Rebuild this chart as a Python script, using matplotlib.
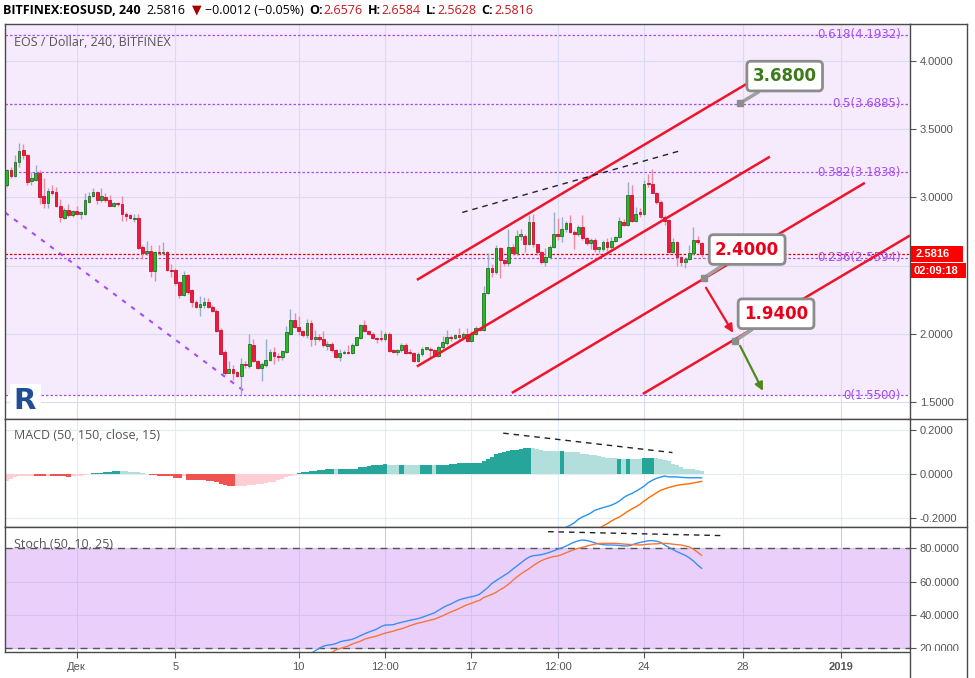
import matplotlib
matplotlib.use("Agg")
import matplotlib.pyplot as plt
import numpy as np
import pandas as pd
from matplotlib.patches import Rectangle
from matplotlib.lines import Line2D

plt.rcParams['font.family'] = ['Open Sans', 'DejaVu Sans']

# ---- data (4h candles, EOS/USD) ----
opens = [3.09, 3.20, 3.16, 3.26, 3.35, 3.31, 3.12, 3.13, 3.18, 3.01,
         2.96, 3.05, 3.04, 2.94, 2.85, 2.91, 2.87, 2.90, 2.88, 2.88,
         2.97, 3.01, 3.04, 2.98, 3.00, 2.98, 2.94, 2.96, 2.95, 2.875,
         2.87, 2.84, 2.85, 2.64, 2.59, 2.61, 2.46, 2.60, 2.59, 2.60,
         2.47, 2.47, 2.38, 2.285, 2.43, 2.32, 2.23, 2.20, 2.21, 2.23,
         2.20, 2.17, 2.03, 1.87, 1.715, 1.74, 1.72, 1.69, 1.78, 1.765,
         1.92, 1.80, 1.75, 1.77, 1.81, 1.87, 1.84, 1.83, 1.87, 2.00,
         2.10, 2.05, 2.02, 1.99, 2.08, 1.96, 1.975, 1.963, 1.91, 1.925,
         1.88, 1.83, 1.86, 1.87, 1.86, 1.92, 1.97, 2.066, 2.02, 2.00,
         1.97, 1.965, 1.96, 2.00, 1.88, 1.87, 1.88, 1.92, 1.87, 1.86,
         1.80, 1.85, 1.89, 1.89, 1.88, 1.84, 1.90, 1.93, 1.98, 1.97,
         1.99, 1.98, 2.00, 1.95, 2.00, 2.04, 2.03, 2.30, 2.485, 2.45,
         2.63, 2.54, 2.52, 2.64, 2.59, 2.72, 2.72, 2.657, 2.82, 2.655,
         2.60, 2.525, 2.56, 2.64, 2.73, 2.715, 2.765, 2.81, 2.75, 2.735,
         2.78, 2.70, 2.665, 2.69, 2.62, 2.62, 2.675, 2.64, 2.68, 2.71,
         2.82, 2.80, 3.02, 2.83, 2.89, 2.88, 3.10, 3.10, 3.035, 2.97,
         2.855, 2.835, 2.60, 2.67, 2.56, 2.525, 2.545, 2.59, 2.685, 2.665]
highs = [3.21, 3.22, 3.31, 3.40, 3.39, 3.32, 3.19, 3.24, 3.20, 3.14,
         3.07, 3.09, 3.08, 2.99, 2.92, 2.955, 2.91, 2.935, 2.90, 3.03,
         3.04, 3.07, 3.05, 3.07, 3.03, 3.02, 2.97, 2.97, 3.01, 2.89,
         2.88, 2.88, 2.88, 2.65, 2.68, 2.65, 2.61, 2.65, 2.67, 2.61,
         2.51, 2.48, 2.39, 2.46, 2.44, 2.33, 2.25, 2.28, 2.27, 2.26,
         2.21, 2.18, 2.04, 1.88, 1.80, 1.77, 1.73, 1.82, 1.80, 2.00,
         1.96, 1.81, 1.79, 1.96, 1.89, 1.90, 1.86, 1.88, 2.06, 2.18,
         2.15, 2.13, 2.03, 2.11, 2.10, 2.03, 2.00, 2.02, 1.95, 1.94,
         1.89, 1.89, 1.88, 1.92, 1.93, 1.98, 2.07, 2.10, 2.03, 2.01,
         1.98, 2.03, 2.01, 2.01, 1.89, 1.89, 1.93, 1.93, 1.89, 1.87,
         1.87, 1.90, 1.905, 1.90, 1.89, 1.91, 1.985, 2.03, 1.99, 2.00,
         2.04, 2.01, 2.04, 2.02, 2.06, 2.05, 2.35, 2.59, 2.51, 2.65,
         2.64, 2.55, 2.77, 2.66, 2.76, 2.77, 2.73, 2.87, 2.88, 2.66,
         2.61, 2.63, 2.65, 2.89, 2.85, 2.86, 2.83, 2.87, 2.76, 2.80,
         2.87, 2.71, 2.70, 2.70, 2.64, 2.69, 2.70, 2.71, 2.72, 2.86,
         2.84, 3.11, 3.09, 2.93, 2.92, 3.13, 3.17, 3.21, 3.04, 2.98,
         2.87, 2.84, 2.70, 2.68, 2.57, 2.55, 2.65, 2.78, 2.72, 2.67]
lows = [3.08, 3.14, 3.15, 3.22, 3.28, 3.09, 3.09, 3.12, 2.95, 2.92,
        2.92, 3.02, 2.93, 2.82, 2.84, 2.86, 2.86, 2.87, 2.845, 2.87,
        2.96, 3.00, 2.95, 2.97, 2.97, 2.935, 2.93, 2.94, 2.83, 2.83,
        2.84, 2.82, 2.62, 2.55, 2.58, 2.42, 2.39, 2.58, 2.58, 2.46,
        2.42, 2.36, 2.26, 2.28, 2.29, 2.20, 2.19, 2.13, 2.19, 2.19,
        2.16, 2.01, 1.85, 1.70, 1.71, 1.66, 1.68, 1.56, 1.75, 1.75,
        1.79, 1.74, 1.655, 1.76, 1.80, 1.78, 1.80, 1.81, 1.86, 1.99,
        2.04, 1.99, 1.98, 1.97, 1.91, 1.92, 1.95, 1.90, 1.88, 1.87,
        1.82, 1.80, 1.85, 1.85, 1.85, 1.91, 1.96, 2.01, 1.99, 1.96,
        1.93, 1.95, 1.95, 1.87, 1.86, 1.845, 1.87, 1.855, 1.85, 1.79,
        1.79, 1.84, 1.88, 1.83, 1.83, 1.83, 1.89, 1.92, 1.95, 1.96,
        1.95, 1.97, 1.94, 1.94, 1.99, 2.02, 2.02, 2.29, 2.42, 2.44,
        2.41, 2.50, 2.50, 2.58, 2.58, 2.69, 2.60, 2.65, 2.64, 2.58,
        2.51, 2.50, 2.55, 2.63, 2.69, 2.67, 2.75, 2.74, 2.62, 2.72,
        2.69, 2.65, 2.62, 2.60, 2.59, 2.61, 2.61, 2.62, 2.67, 2.70,
        2.79, 2.79, 2.82, 2.82, 2.86, 2.87, 3.08, 3.03, 2.95, 2.84,
        2.80, 2.59, 2.59, 2.50, 2.50, 2.48, 2.54, 2.58, 2.66, 2.56]
closes = [3.20, 3.16, 3.26, 3.34, 3.31, 3.11, 3.14, 3.18, 3.00, 2.96,
          3.05, 3.03, 2.94, 2.86, 2.91, 2.87, 2.90, 2.88, 2.89, 2.98,
          3.01, 3.04, 2.98, 3.01, 2.98, 2.94, 2.96, 2.95, 2.88, 2.865,
          2.85, 2.85, 2.63, 2.59, 2.61, 2.46, 2.60, 2.59, 2.60, 2.47,
          2.46, 2.37, 2.285, 2.43, 2.31, 2.23, 2.20, 2.22, 2.23, 2.20,
          2.17, 2.02, 1.855, 1.715, 1.74, 1.715, 1.69, 1.78, 1.77, 1.925,
          1.80, 1.75, 1.78, 1.81, 1.87, 1.84, 1.83, 1.875, 2.015, 2.10,
          2.05, 2.02, 1.99, 2.08, 1.96, 1.975, 1.96, 1.917, 1.925, 1.88,
          1.83, 1.858, 1.87, 1.86, 1.92, 1.973, 2.066, 2.02, 2.00, 1.97,
          1.96, 1.96, 2.00, 1.877, 1.87, 1.88, 1.92, 1.86, 1.86, 1.80,
          1.85, 1.89, 1.90, 1.88, 1.837, 1.90, 1.94, 1.98, 1.97, 1.99,
          1.98, 2.00, 1.95, 2.00, 2.04, 2.03, 2.30, 2.485, 2.45, 2.63,
          2.54, 2.52, 2.64, 2.59, 2.72, 2.73, 2.657, 2.82, 2.655, 2.60,
          2.525, 2.56, 2.64, 2.73, 2.715, 2.765, 2.81, 2.75, 2.735, 2.78,
          2.70, 2.665, 2.69, 2.62, 2.635, 2.67, 2.64, 2.68, 2.71, 2.83,
          2.80, 3.02, 2.83, 2.88, 2.875, 3.10, 3.095, 3.035, 2.965, 2.855,
          2.83, 2.60, 2.67, 2.56, 2.525, 2.545, 2.59, 2.69, 2.67, 2.5816]

macd_hist = [-0.034, -0.022, -0.014, -0.010, -0.0095, -0.0092, -0.009, -0.010, -0.011, -0.0115,
             -0.008, -0.010, -0.0105, -0.011, -0.012, -0.015, -0.009, -0.0088, -0.008, -0.005,
             -0.003, 0.002, 0.003, 0.005, 0.009, 0.010, 0.0105, 0.011, 0.0108, 0.0106,
             0.010, 0.009, 0.006, 0.004, 0.001, -0.004, -0.005, -0.008, -0.009, -0.0095,
             -0.010, -0.019, -0.020, -0.011, -0.027, -0.028, -0.0285, -0.029, -0.030, -0.0305,
             -0.031, -0.038, -0.045, -0.050, -0.055, -0.0565, -0.0562, -0.056, -0.055, -0.052,
             -0.050, -0.047, -0.045, -0.043, -0.038, -0.035, -0.026, -0.022, -0.015, -0.010,
             -0.004, 0.003, 0.007, 0.008, 0.013, 0.014, 0.019, 0.0195, 0.020, 0.0202,
             0.0198, 0.0203, 0.0206, 0.021, 0.023, 0.024, 0.031, 0.033, 0.037, 0.039,
             0.040, 0.042, 0.043, 0.041, 0.0405, 0.040, 0.0402, 0.040, 0.0398, 0.0396,
             0.0395, 0.0398, 0.0401, 0.0403, 0.0395, 0.041, 0.0415, 0.042, 0.044, 0.0445,
             0.048, 0.0483, 0.049, 0.0493, 0.0496, 0.050, 0.058, 0.066, 0.076, 0.088,
             0.095, 0.099, 0.104, 0.107, 0.110, 0.112, 0.115, 0.119, 0.116, 0.111,
             0.108, 0.105, 0.104, 0.1035, 0.103, 0.1033, 0.100, 0.0995, 0.097, 0.0965,
             0.091, 0.0905, 0.084, 0.0835, 0.081, 0.078, 0.072, 0.0715, 0.071, 0.065,
             0.068, 0.068, 0.068, 0.068, 0.068, 0.073, 0.073, 0.073, 0.072, 0.065,
             0.062, 0.056, 0.046, 0.040, 0.033, 0.023, 0.020, 0.020, 0.017, 0.015]
# P = light red, R = red, T = teal, L = light teal
macd_hist_codes = ("PPPPPPP" "RRR" "P" "RRRRR" "PPPPP" "TTTTTTT" "LLLLLLL"
                   "RRRRRRRR" "P" "RRRRRRRRRRRR" "PPPPPPPPPPPPPPP" "TTTTTTTTT" "L"
                   "TTTTTTTTTTTT" "LLL" "T" "LLLL" "TTT" "L" "TTTTTTTTTTTTTTTTTTTTTTT"
                   "LLLLLLL" "T" "LLLLLLLLLLLLL" "T" "L" "T" "LLL" "TTT" "LLLLLLLLLLLL")
macd_line = [-0.255, -0.242, -0.233, -0.222, -0.206, -0.195, -0.187, -0.178, -0.165, -0.159,
             -0.153, -0.148, -0.142, -0.134, -0.123, -0.108, -0.097, -0.089, -0.079, -0.068,
             -0.056, -0.040, -0.029, -0.021, -0.015, -0.010, -0.014, -0.014, -0.014, -0.016,
             -0.017, -0.018, -0.018, -0.018, -0.018]      # candles 136..170
macd_signal = [-0.26, -0.248, -0.236, -0.226, -0.214, -0.204, -0.195, -0.183, -0.170, -0.159,
               -0.149, -0.138, -0.123, -0.110, -0.098, -0.086, -0.075, -0.068, -0.062, -0.057,
               -0.052, -0.049, -0.047, -0.045, -0.041, -0.038, -0.034]   # candles 144..170
stoch_k = [17.0, 18.6, 20.0, 21.3, 21.9, 22.2, 22.8, 23.9, 24.5, 24.9,
           25.4, 26.4, 27.6, 28.7, 29.7, 30.6, 31.6, 33.0, 34.0, 34.0,
           34.2, 35.0, 35.6, 36.2, 36.8, 37.3, 37.8, 38.6, 39.5, 40.4,
           41.3, 42.8, 44.3, 45.6, 46.6, 47.9, 49.1, 49.8, 50.4, 51.0,
           51.5, 52.5, 54.5, 56.5, 59.0, 60.6, 62.2, 63.8, 65.3, 67.4,
           69.3, 71.2, 73.1, 74.7, 75.6, 75.8, 76.2, 76.8, 77.6, 78.5,
           79.5, 80.3, 81.3, 82.6, 83.7, 84.5, 85.0, 84.7, 84.1, 83.3,
           82.6, 82.2, 82.0, 82.0, 81.9, 81.7, 81.5, 81.4, 82.0, 82.9,
           83.5, 84.0, 84.5, 84.6, 84.3, 83.6, 82.0, 80.6, 79.3, 78.0,
           76.9, 75.8, 74.3, 72.4, 70.0, 68.0]              # candles 75..170
stoch_d = [17.5, 19.0, 19.8, 20.6, 21.4, 22.6, 23.4, 24.3, 25.5, 26.2,
           26.8, 27.4, 28.3, 29.1, 29.7, 30.3, 31.1, 31.7, 32.6, 33.5,
           34.4, 35.1, 35.6, 36.3, 36.9, 37.5, 38.5, 39.5, 40.7, 41.8,
           42.8, 43.9, 45.1, 46.2, 47.0, 48.0, 48.8, 50.5, 51.4, 52.4,
           53.6, 55.2, 56.6, 58.4, 60.6, 62.7, 64.6, 66.2, 67.7, 69.5,
           71.2, 72.6, 73.6, 74.4, 75.1, 75.4, 76.3, 77.3, 78.3, 79.2,
           80.0, 80.6, 81.3, 81.9, 82.5, 82.9, 83.0, 83.0, 83.0, 83.0,
           82.8, 82.6, 82.4, 82.3, 82.1, 82.0, 82.2, 82.5, 82.6, 82.7,
           82.9, 83.0, 82.8, 82.5, 82.2, 82.0, 81.5, 80.8, 79.5, 77.7,
           75.8]                                             # candles 80..170

fib_levels = [1.5500, 2.5594, 3.1838, 3.6885, 4.1932]
fib_labels = ['0(1.5500)', '0.236(2.5594)', '0.382(3.1838)', '0.5(3.6885)', '0.618(4.1932)']
last_price = 2.5816

# x axis in days of December 2018 (Dec 1 = 1.0)
tick_days = [1, 5, 10, 13.5, 17, 20.5, 24, 28, 32]
tick_names = ['Дек', '5', '10', '12:00', '17', '12:00', '24', '28', '2019']

# drawn lines: (day, price) pairs
channel = [((14.79, 2.395), (28.38, 3.857)),
           ((14.79, 1.760), (29.10, 3.299)),
           ((18.64, 1.566), (32.95, 3.107)),
           ((23.95, 1.559), (34.78, 2.721))]
price_trend = ((16.63, 2.89), (25.38, 3.338))
fall_line = ((-1.906, 2.89), (7.94, 1.559))
macd_trend = ((18.29, 0.184), (25.15, 0.096))
stoch_trend = ((20.11, 90.0), (27.28, 87.6))
targets = [('3.6800', (27.89, 3.691), (29.70, 3.89), '#3d7a1c'),
           ('2.4000', (26.43, 2.412), (28.18, 2.618), '#e8001c'),
           ('1.9400', (27.69, 1.949), (29.35, 2.147), '#e8001c')]
red_arrow = ((26.51, 2.338), (27.61, 2.007))
green_arrow = ((27.89, 1.912), (28.82, 1.581))

# ---- layout ----
W, H = 975, 678
fig = plt.figure(figsize=(W / 100, H / 100), dpi=100)


def box(x0, y0, x1, y1):
    return [x0 / W, 1 - y1 / H, (x1 - x0) / W, (y1 - y0) / H]


ax = fig.add_axes(box(5, 24, 910, 419))
ax_m = fig.add_axes(box(5, 419, 910, 527), sharex=ax)
ax_s = fig.add_axes(box(5, 527, 910, 652), sharex=ax)

times = pd.date_range('2018-11-28 04:00', periods=len(closes), freq='4h')
days = ((times - pd.Timestamp('2018-11-30')) / pd.Timedelta('1D')).to_numpy()
o, h, l, c = map(np.array, (opens, highs, lows, closes))

grid_col = '#d9dcf2'
label_col = '#555555'
axis_font = ['Liberation Sans', 'DejaVu Sans']
for a in (ax, ax_m, ax_s):
    a.set_xlim(-1.906, 34.78)
    a.set_xticks(tick_days)
    a.grid(True, color=grid_col, lw=0.8)
    a.set_axisbelow(True)
    a.yaxis.tick_right()
    a.tick_params(axis='y', direction='out', length=4, color=label_col,
                  labelcolor=label_col, labelsize=8, pad=3)
    a.tick_params(axis='x', length=0, labelbottom=False)
    for s in a.spines.values():
        s.set_color('#4a4a4a')
        s.set_linewidth(1)

# ---- price panel ----
ax.set_ylim(1.375, 4.272)
ax.axhspan(1.55, 4.4, color='#f6eafd', zorder=0, lw=0)
ax.set_yticks([1.5, 2.0, 2.5, 3.0, 3.5, 4.0])
ax.set_yticklabels(['1.5000', '2.0000', '', '3.0000', '3.5000', '4.0000'], family=axis_font)

fib_col = '#a64df5'
for lev, txt in zip(fib_levels, fib_labels):
    ax.axhline(lev, color=fib_col, ls=(0, (2, 1.6)), lw=0.9, zorder=1)
    ax.text(0.990, lev, txt, transform=ax.get_yaxis_transform(), ha='right', va='center',
            color=fib_col, fontsize=8.5, family=['DejaVu Sans'], zorder=2)
ax.axhline(last_price, color='#e00000', ls=(0, (2, 1.5)), lw=0.9, zorder=1)

up = c >= o
wick_cols = np.where(up, '#97aecb', '#f28ba0')
body_cols = np.where(up, '#1fbf1f', '#f5163d')
edge_cols = np.where(up, '#2a6a2a', '#c8102e')
ax.vlines(days, l, h, colors=wick_cols, lw=1, zorder=3)
body_lo = np.minimum(o, c)
body_h = np.maximum(np.abs(c - o), 0.008)
ax.bar(days, body_h, bottom=body_lo, width=0.11, color=body_cols,
       edgecolor=edge_cols, lw=0.6, zorder=4)

for (x0, y0), (x1, y1) in channel:
    ax.plot([x0, x1], [y0, y1], color='#f0142a', lw=1.8, zorder=5, solid_capstyle='butt')
ax.plot(*zip(*price_trend), color='#222222', ls=(0, (4, 3.5)), lw=1, zorder=5)
ax.plot(*zip(*fall_line), color=fib_col, ls=(0, (2.2, 3.2)), lw=1.5, zorder=2)

for txt, pt, ctr, col in targets:
    ax.annotate(txt, xy=pt, xytext=ctr, ha='center', va='center', fontsize=12,
                weight='bold', color=col, family=['DejaVu Sans'], zorder=8,
                bbox=dict(boxstyle='round,pad=0.35,rounding_size=0.25', fc='white',
                          ec='#8c8c8c', lw=2),
                arrowprops=dict(arrowstyle='-', color='#a0a0a0', lw=2.5,
                                shrinkA=0, shrinkB=0))
    ax.plot(*pt, 's', color='#8c8c8c', ms=4, zorder=9)

ax.annotate('', xy=red_arrow[1], xytext=red_arrow[0], zorder=7,
            arrowprops=dict(arrowstyle='-|>', color='#f0142a', lw=1.6, mutation_scale=12,
                            shrinkA=0, shrinkB=0))
ax.annotate('', xy=green_arrow[1], xytext=green_arrow[0], zorder=7,
            arrowprops=dict(arrowstyle='-|>', color='#4d8a1e', lw=1.6, mutation_scale=12,
                            shrinkA=0, shrinkB=0))

ax.text(0.01, 0.954, 'EOS / Dollar, 240, BITFINEX', transform=ax.transAxes,
        ha='left', va='center', fontsize=9, color=label_col)
# logo
ax.add_patch(Rectangle((0.006, 0.005), 0.034, 0.083, transform=ax.transAxes,
                       fc='white', ec='none', zorder=6))
ax.text(0.009, 0.045, 'R', transform=ax.transAxes, ha='left', va='center',
        fontsize=21, weight='bold', color='#1f4e96', family=['DejaVu Sans'], zorder=7)

# ---- MACD panel ----
ax_m.set_ylim(-0.2406, 0.248)
ax_m.set_yticks([-0.2, 0.0, 0.2])
ax_m.set_yticklabels(['-0.2000', '0.0000', '0.2000'], family=axis_font)
ax_m.grid(True, color='#e3ebf3', lw=0.8)
code_col = {'P': '#ffcdd2', 'R': '#ef5350', 'T': '#26a69a', 'L': '#b2dfdb'}
ax_m.bar(days, macd_hist, width=1 / 6, color=[code_col[k] for k in macd_hist_codes],
         lw=0, zorder=2)
ax_m.plot(days[135:], macd_line, color='#2196f3', lw=1, zorder=3)
ax_m.plot(days[143:], macd_signal, color='#ff6d00', lw=1, zorder=3)
ax_m.plot(*zip(*macd_trend), color='#222222', ls=(0, (4, 3.5)), lw=1, zorder=4)
ax_m.text(0.01, 0.843, 'MACD (50, 150, close, 15)', transform=ax_m.transAxes,
          ha='left', va='center', fontsize=9, color=label_col)

# ---- Stoch panel ----
ax_s.set_ylim(17.8, 92.8)
ax_s.set_yticks([20, 40, 60, 80])
ax_s.set_yticklabels(['20.0000', '40.0000', '60.0000', '80.0000'], family=axis_font)
ax_s.axhspan(20, 80, color='#eacffb', zorder=0, lw=0)
ax_s.grid(True, color='#d5c2f0', lw=0.8)
for lev in (20, 80):
    ax_s.axhline(lev, color='#555555', ls=(0, (5, 4)), lw=1, zorder=1)
ax_s.plot(days[74:], stoch_k, color='#3a8ff0', lw=1, zorder=3)
ax_s.plot(days[79:], stoch_d, color='#f4763a', lw=1, zorder=3)
ax_s.plot(*zip(*stoch_trend), color='#222222', ls=(0, (4, 3.5)), lw=1, zorder=4)
ax_s.text(0.01, 0.856, 'Stoch (50, 10, 25)', transform=ax_s.transAxes,
          ha='left', va='center', fontsize=9, color=label_col)
ax_s.tick_params(axis='x', length=4, color=label_col, labelbottom=True,
                 labelcolor=label_col, labelsize=8, pad=3)
ax_s.set_xticklabels(tick_names, family=axis_font)
ax_s.get_xticklabels()[-1].set_weight('bold')

# ---- frame pieces outside the panels ----
def fline(x0, y0, x1, y1):
    fig.add_artist(Line2D([x0 / W, x1 / W], [1 - y0 / H, 1 - y1 / H],
                          transform=fig.transFigure, color='#4a4a4a', lw=1, zorder=20))


fig.add_artist(Rectangle((911 / W, 0), 55 / W, 27 / H, transform=fig.transFigure,
                         fc='white', ec='none', zorder=19))
fline(910, 24, 967, 24)
fline(910, 419, 967, 419)
fline(910, 527, 967, 527)
fline(967, 24, 967, 678)
fline(910, 652, 910, 678)

# last price tags
fig.add_artist(Rectangle((911 / W, 1 - 262 / H), 52 / W, 16 / H, transform=fig.transFigure,
                         fc='#ff0000', ec='none', zorder=21))
fig.add_artist(Rectangle((911 / W, 1 - 278 / H), 55 / W, 15 / H, transform=fig.transFigure,
                         fc='#ff0000', ec='none', zorder=21))
fig.text(916 / W, 1 - 254 / H, '2.5816', color='white', weight='bold', fontsize=8,
         family=axis_font, va='center', zorder=22)
fig.text(914 / W, 1 - 270.5 / H, '02:09:18', color='white', weight='bold', fontsize=8,
         family=axis_font, va='center', zorder=22)

# header line, pieces laid out one after another
hy = 1 - 10 / H
red_txt = '#c8151b'
hdr = [(0, 'BITFINEX:EOSUSD, 240', 'black', 'bold'),
       (6, '2.5816', 'black', 'normal'),
       (6, '▼', '#a80000', 'normal'),
       (4, '−0.0012 (−0.05%)', 'black', 'normal'),
       (5, 'O:', 'black', 'bold'), (1, '2.6576', red_txt, 'normal'),
       (5, 'H:', 'black', 'bold'), (1, '2.6584', red_txt, 'normal'),
       (5, 'L:', 'black', 'bold'), (1, '2.5628', red_txt, 'normal'),
       (5, 'C:', 'black', 'bold'), (1, '2.5816', red_txt, 'normal')]
renderer = fig.canvas.get_renderer()
x = 3
for gap, txt, col, wt in hdr:
    x += gap
    t = fig.text(x / W, hy, txt, color=col, weight=wt, fontsize=9, va='center', ha='left')
    x += t.get_window_extent(renderer=renderer).width

fig.savefig('out.png', dpi=100)
